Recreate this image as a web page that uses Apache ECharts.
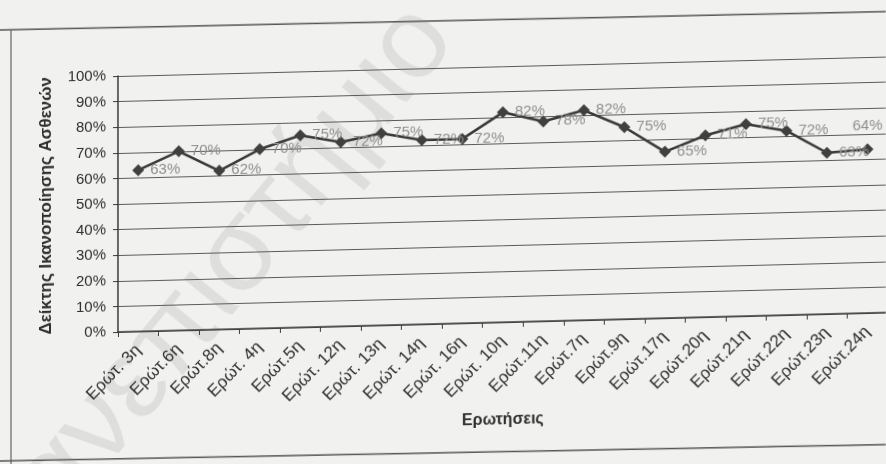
<!DOCTYPE html>
<html>
<head>
<meta charset="utf-8">
<script src="https://cdn.jsdelivr.net/npm/echarts@6/dist/echarts.min.js"></script>
<style>
  html, body { margin: 0; padding: 0; width: 886px; height: 464px; overflow: hidden; background: #f1f1ef; }
  /* the printed page was scanned with a slight vertical shear */
  #chart { position: absolute; left: 0; top: 0; width: 886px; height: 500px;
           transform-origin: 0 0; transform: skewY(-1.45deg); }
</style>
</head>
<body>
<div id="chart"></div>
<script>
// Questions, in the order they are plotted
const categories = [
  'Ερώτ. 3η', 'Ερώτ.6η', 'Ερώτ.8η', 'Ερώτ. 4η', 'Ερώτ.5η', 'Ερώτ. 12η',
  'Ερώτ. 13η', 'Ερώτ. 14η', 'Ερώτ. 16η', 'Ερώτ. 10η', 'Ερώτ.11η', 'Ερώτ.7η',
  'Ερώτ.9η', 'Ερώτ.17η', 'Ερώτ.20η', 'Ερώτ.21η', 'Ερώτ.22η', 'Ερώτ.23η', 'Ερώτ.24η'
];
// Patient satisfaction index per question (%)
const satisfaction = [63, 70, 62, 70, 75, 72, 75, 72, 72, 82, 78, 82, 75, 65, 71, 75, 72, 63, 64];
// Value axis range
const yMin = 0, yMax = 100, yStep = 10;

const FONT = 'Arial, "Liberation Sans", sans-serif';
const chart = echarts.init(document.getElementById('chart'), null, { renderer: 'canvas' });

const points = satisfaction.map((v, i) => {
  const last = i === satisfaction.length - 1;
  return {
    value: v,
    label: last ? { position: 'top', distance: 10 } : { position: 'right', distance: 6 }
  };
});

chart.setOption({
  backgroundColor: 'transparent',
  animation: false,
  textStyle: { fontFamily: FONT },
  grid: { left: 118, top: 79, width: 770, height: 256, containLabel: false, outerBoundsMode: 'none' },
  xAxis: {
    type: 'category',
    data: categories,
    boundaryGap: true,
    name: 'Ερωτήσεις',
    nameLocation: 'middle',
    nameGap: 90,
    nameTextStyle: { fontFamily: FONT, fontSize: 16, fontWeight: 'bold', color: '#2e2e2e' },
    axisLine: { lineStyle: { color: '#3a3a3a', width: 1.5 } },
    axisTick: { show: true, length: 5, lineStyle: { color: '#3a3a3a' } },
    axisLabel: { interval: 0, rotate: 45, margin: 16, fontFamily: FONT, fontSize: 17, color: '#2e2e2e' },
    splitLine: { show: false }
  },
  yAxis: {
    type: 'value',
    min: yMin, max: yMax, interval: yStep,
    name: 'Δείκτης Ικανοποίησης Ασθενών',
    nameLocation: 'middle',
    nameGap: 63,
    nameTextStyle: { fontFamily: FONT, fontSize: 17, fontWeight: 'bold', color: '#2e2e2e' },
    axisLine: { show: true, lineStyle: { color: '#3a3a3a', width: 1.5 } },
    axisTick: { show: true, length: 5, lineStyle: { color: '#3a3a3a' } },
    axisLabel: { formatter: '{value}%', margin: 12, fontFamily: FONT, fontSize: 15, color: '#2e2e2e' },
    splitLine: { show: true, lineStyle: { color: '#5a5a5a', width: 1 } }
  },
  graphic: [
    // faint watermark across the page
    {
      type: 'text', x: -60, y: 530, rotation: Math.PI * 50 / 180, z: 0, silent: true,
      style: { text: 'Πανεπιστήμιο', fontFamily: FONT, fontSize: 115, fill: 'rgba(170,170,170,0.26)' }
    },
    // frame around the chart
    { type: 'line', shape: { x1: 0, y1: 30, x2: 886, y2: 34 }, style: { stroke: '#555', lineWidth: 1.5 } },
    { type: 'line', shape: { x1: 11, y1: 30, x2: 11, y2: 470 }, style: { stroke: '#666', lineWidth: 1.2 } },
    { type: 'line', shape: { x1: 0, y1: 461, x2: 886, y2: 467 }, style: { stroke: '#555', lineWidth: 1.5 } }
  ],
  series: [{
    type: 'line',
    data: points,
    symbol: 'diamond',
    symbolSize: 12,
    lineStyle: { color: '#383838', width: 2.5 },
    itemStyle: { color: '#404040' },
    label: {
      show: true,
      formatter: '{c}%',
      fontFamily: FONT,
      fontSize: 15,
      color: '#8f8f8f'
    },
    z: 3
  }]
});
</script>
</body>
</html>
